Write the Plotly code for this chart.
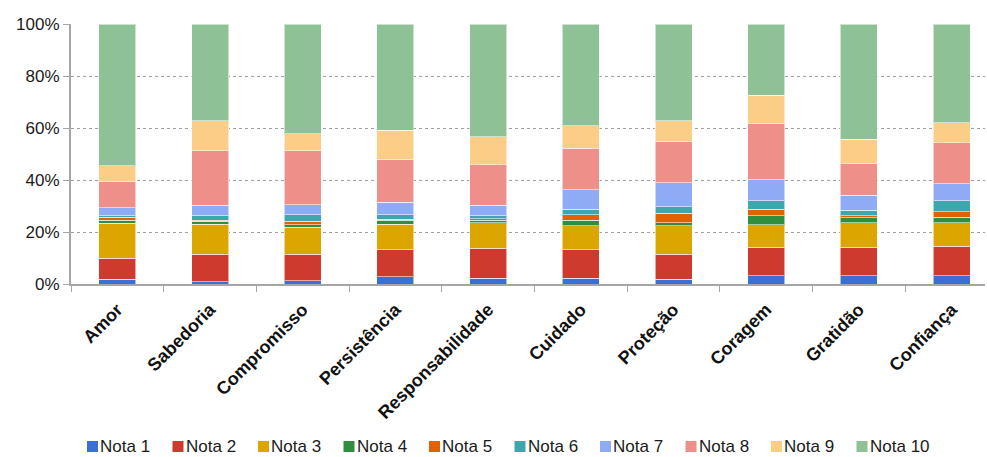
import plotly.graph_objects as go

categories = ["Amor", "Sabedoria", "Compromisso", "Persistência", "Responsabilidade",
              "Cuidado", "Proteção", "Coragem", "Gratidão", "Confiança"]

nota1 = [1.8, 0.8, 1.2, 2.8, 2.2, 2.3, 1.8, 3.2, 3.2, 3.2]
nota2 = [8.2, 10.7, 10.3, 10.4, 11.5, 10.9, 9.7, 10.9, 10.9, 11.4]
nota3 = [13.3, 11.5, 10.3, 9.8, 9.8, 9.2, 10.9, 8.7, 9.4, 8.9]
nota4 = [1.2, 1.1, 1.0, 1.5, 1.1, 2.2, 1.1, 3.4, 2.0, 2.1]
nota5 = [1.1, 0.5, 1.3, 0.5, 0.5, 2.1, 3.8, 2.5, 0.8, 2.2]
nota6 = [0.6, 1.6, 2.6, 1.7, 1.1, 2.0, 2.4, 3.3, 2.0, 4.2]
nota7 = [3.1, 4.1, 3.7, 4.8, 4.1, 7.6, 9.3, 8.1, 5.9, 6.5]
nota8 = [10.0, 20.9, 20.8, 16.5, 15.5, 15.9, 15.7, 21.6, 12.1, 15.8]
nota9 = [6.1, 11.5, 6.5, 11.2, 10.9, 8.6, 8.0, 10.9, 9.3, 7.7]
nota10 = [54.6, 37.3, 42.3, 40.8, 43.3, 39.2, 37.3, 27.4, 44.4, 38.0]

series_names = ["Nota 1", "Nota 2", "Nota 3", "Nota 4", "Nota 5",
                "Nota 6", "Nota 7", "Nota 8", "Nota 9", "Nota 10"]
series_values = [nota1, nota2, nota3, nota4, nota5, nota6, nota7, nota8, nota9, nota10]
colors = ["#3A70D6", "#CF3A2F", "#DCA600", "#2F8F3F", "#E26100",
          "#3CA7AE", "#8FABF5", "#EE8F89", "#FCCD86", "#8EC195"]

y_ticks = [0, 20, 40, 60, 80, 100]

W, H = 987, 457
ML, MR, MT, MB = 71, 2, 24, 173
PW, PH = W - ML - MR, H - MT - MB


def px_x(p):
    return (p - ML) / PW


def px_y(p):
    return (H - MB - p) / PH


fig = go.Figure()
for name, vals, col in zip(series_names, series_values, colors):
    fig.add_trace(go.Bar(
        name=name, x=categories, y=vals,
        marker=dict(color=col, line=dict(color="rgba(255,255,255,0.55)", width=1)),
    ))

# legend drawn as shapes + text (single row, like the original)
shapes = []
annotations = []
leg_x0, leg_step, leg_box = 87, 85.5, 11
leg_top, leg_mid = 441, 446
for i, (name, col) in enumerate(zip(series_names, colors)):
    x0 = leg_x0 + i * leg_step
    shapes.append(dict(
        type="rect", xref="paper", yref="paper",
        x0=px_x(x0), x1=px_x(x0 + leg_box),
        y0=px_y(leg_top + leg_box), y1=px_y(leg_top),
        fillcolor=col, line=dict(width=0), layer="above",
    ))
    annotations.append(dict(
        xref="paper", yref="paper", x=px_x(x0 + leg_box + 1), y=px_y(leg_mid),
        xanchor="left", yanchor="middle", text=name, showarrow=False,
        font=dict(family="Liberation Sans, Arial, sans-serif", size=17, color="#1a1a1a"),
        borderpad=0,
    ))

fig.update_layout(
    barmode="stack",
    barnorm="percent",
    bargap=0.6,
    width=W, height=H,
    margin=dict(l=ML, r=MR, t=MT, b=MB, autoexpand=False),
    paper_bgcolor="white",
    plot_bgcolor="white",
    font=dict(family="Liberation Sans, Arial, sans-serif", size=15, color="#1a1a1a"),
    showlegend=False,
    shapes=shapes,
    annotations=annotations,
)

fig.update_xaxes(
    type="category",
    range=[-0.5, 9.36],
    tickangle=-45,
    tickfont=dict(family="Liberation Sans, Arial, sans-serif", size=18, color="#111111", weight="bold"),
    showline=True, linecolor="#A6A6A6", linewidth=2,
    ticks="outside", tickson="boundaries", ticklen=6, tickcolor="#A6A6A6", tickwidth=1,
    ticklabelstandoff=6,
    showgrid=False,
)
fig.update_yaxes(
    range=[0, 100],
    tickvals=y_ticks,
    ticktext=[f"{v}%" for v in y_ticks],
    tickfont=dict(size=17, color="#1a1a1a"),
    showline=True, linecolor="#A6A6A6", linewidth=2,
    ticks="outside", ticklen=6, tickcolor="#A6A6A6",
    showgrid=True, gridcolor="#A0A0A0", griddash="dot", gridwidth=1,
    zeroline=False,
)

fig.write_html("out.html")
